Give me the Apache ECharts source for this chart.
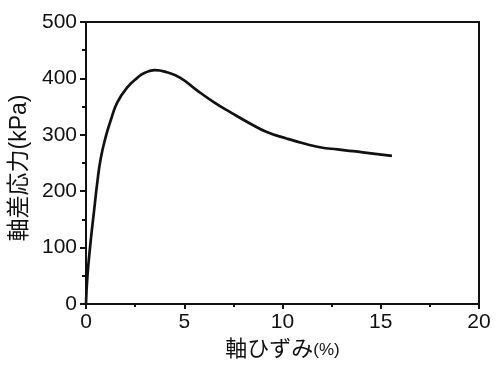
<!DOCTYPE html>
<html>
<head>
<meta charset="utf-8">
<script src="https://cdn.jsdelivr.net/npm/echarts@6/dist/echarts.min.js"></script>
<style>html,body{margin:0;padding:0;background:#fff;}#c{width:503px;height:366px;}</style>
</head>
<body>
<div id="c"></div>
<script>
var strain = [0, 0.07, 0.24, 0.41, 0.58, 0.75, 1.0, 1.28, 1.6, 2.1, 2.61, 3.0, 3.5, 4.1, 4.8, 5.6, 6.5, 7.4, 8.3, 9.2, 10.2, 11.1, 11.9, 12.8, 13.6, 14.5, 15.57];
var stress = [0, 48, 112, 165, 217, 258, 296, 328, 358, 384, 401, 410, 414.6, 411, 401, 380, 358, 339, 321, 305, 293.5, 284.5, 278, 274, 271, 267, 262.5];
var xName = '軸ひずみ';
var xUnit = '(%)';
var yName = '軸差応力(kPa)';

var data = strain.map(function (v, i) { return [v, stress[i]]; });
var font = '"Liberation Sans", "Noto Sans CJK JP", sans-serif';
var chart = echarts.init(document.getElementById('c'));
chart.setOption({
  animation: false,
  backgroundColor: '#fff',
  grid: { left: 86, right: 24, top: 22, bottom: 59, show: true, borderColor: '#111', borderWidth: 2, backgroundColor: 'transparent' },
  xAxis: {
    type: 'value', min: 0, max: 20, interval: 5,
    name: '{a|' + xName + '}{b|' + xUnit + '}',
    nameLocation: 'middle', nameGap: 35,
    nameTextStyle: { rich: { a: { fontSize: 22, fontFamily: font, color: '#111' }, b: { fontSize: 17, fontFamily: font, color: '#111' } } },
    axisLine: { show: true, lineStyle: { color: '#111', width: 2 } },
    axisTick: { show: true, inside: false, length: 5, lineStyle: { color: '#111', width: 2 } },
    minorTick: { show: true, splitNumber: 2, length: 3, lineStyle: { color: '#111', width: 2 } },
    axisLabel: { fontSize: 21, fontFamily: font, color: '#111', margin: 8 },
    splitLine: { show: false }
  },
  yAxis: {
    type: 'value', min: 0, max: 500, interval: 100,
    name: yName, nameLocation: 'middle', nameGap: 52,
    nameTextStyle: { fontSize: 23, fontFamily: font, color: '#111', padding: [0, 10, 0, 0] },
    axisLine: { show: true, lineStyle: { color: '#111', width: 2 } },
    axisTick: { show: true, inside: false, length: 6, lineStyle: { color: '#111', width: 2 } },
    minorTick: { show: true, splitNumber: 2, length: 4, lineStyle: { color: '#111', width: 2 } },
    axisLabel: { fontSize: 21, fontFamily: font, color: '#111', margin: 9 },
    splitLine: { show: false }
  },
  series: [{
    type: 'line', data: data, smooth: 0.5, showSymbol: false,
    lineStyle: { color: '#111', width: 2.7 }
  }]
});
</script>
</body>
</html>
